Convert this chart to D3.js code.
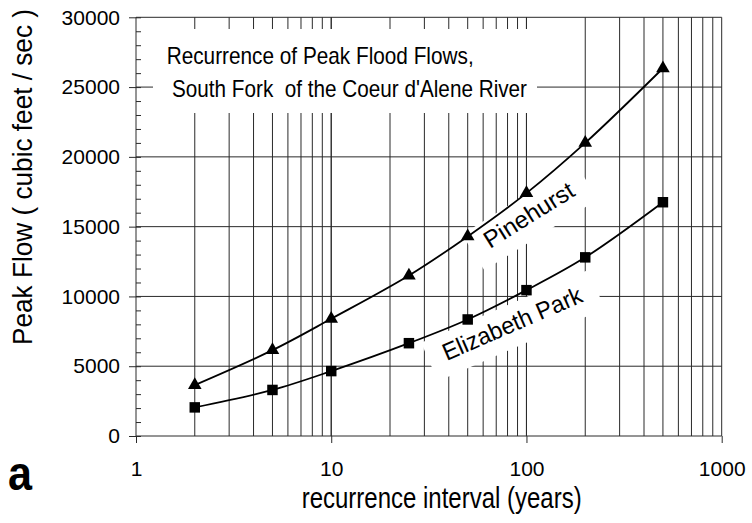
<!DOCTYPE html>
<html>
<head>
<meta charset="utf-8">
<script src="https://cdn.jsdelivr.net/npm/d3@7/dist/d3.min.js"></script>
<style>
  html, body { margin: 0; padding: 0; background: #fff; }
  svg { display: block; font-family: "Liberation Sans", Arial, Helvetica, sans-serif; }
</style>
</head>
<body>
<svg id="chart" width="752" height="523"></svg>
<script>
// Recurrence interval (years) of each estimated peak flow
const interval = [2, 5, 10, 25, 50, 100, 200, 500];
// Peak flow (cubic feet / sec) at each gauge
const pinehurst = [3650, 6150, 8400, 11500, 14300, 17400, 21000, 26350];
const elizabethPark = [2050, 3300, 4650, 6650, 8350, 10450, 12800, 16750];

// Axis ticks
const yTickValues = [0, 5000, 10000, 15000, 20000, 25000, 30000];
const yMinorValues = d3.range(0, 30001, 1000);
const xTickValues = [1, 10, 100, 1000];
const xGridValues = [];
[1, 10, 100].forEach(d => { for (let k = 1; k <= 10; k++) xGridValues.push(d * k); });

const titleLines = ["Recurrence of Peak Flood Flows,", "South Fork  of the Coeur d'Alene River"];
const xTitle = "recurrence interval (years)";
const yTitle = "Peak Flow ( cubic feet / sec )";
const panelLetter = "a";

// Where each series name sits along its curve: [interval, flow]
const labelAnchors = [
  { name: "Pinehurst", at: [65, 13400], angle: -32, length: 102 },
  { name: "Elizabeth Park", at: [39, 5370], angle: -23.5, length: 150 }
];

const svg = d3.select("#chart");
const plot = { left: 136, right: 721.7, top: 17.3, bottom: 436 };
const x = d3.scaleLog().domain([1, 1000]).range([plot.left, plot.right]);
const y = d3.scaleLinear().domain([0, 30000]).range([plot.bottom, plot.top]);
const gridColor = "#2a2a2a";

svg.append("rect").attr("width", 752).attr("height", 523).attr("fill", "#fff");

// Grid
const grid = svg.append("g").attr("stroke", gridColor).attr("stroke-width", 1);
grid.selectAll("line.v").data(xGridValues).join("line")
  .attr("class", "v")
  .attr("x1", d => x(d)).attr("x2", d => x(d))
  .attr("y1", y(30000)).attr("y2", y(0));
grid.selectAll("line.h").data(yTickValues).join("line")
  .attr("class", "h")
  .attr("x1", x(1)).attr("x2", x(1000))
  .attr("y1", d => y(d)).attr("y2", d => y(d));

// Axes
const yAxis = svg.append("g").attr("transform", `translate(${plot.left},0)`)
  .call(d3.axisLeft(y).tickValues(yTickValues).tickSize(7).tickPadding(9).tickFormat(d3.format("d")));
const yMinor = svg.append("g").attr("transform", `translate(${plot.left},0)`)
  .call(d3.axisLeft(y).tickValues(yMinorValues).tickSize(-5).tickFormat(""));
const xAxis = svg.append("g").attr("transform", `translate(0,${plot.bottom})`)
  .call(d3.axisBottom(x).tickValues(xTickValues).tickSize(7).tickPadding(18).tickFormat(d3.format("d")));
[yAxis, yMinor, xAxis].forEach(g => {
  g.select(".domain").remove();
  g.selectAll(".tick line").attr("stroke", gridColor);
  g.selectAll(".tick text").attr("fill", "#000").style("font-size", "21px")
    .style("font-family", "'Liberation Sans', Arial, sans-serif");
});

// Title block on a white panel
svg.append("rect").attr("x", 153).attr("y", 29).attr("width", 384).attr("height", 84).attr("fill", "#fff");
svg.append("text").attr("x", 166.7).attr("y", 64).attr("font-size", 24)
  .attr("textLength", 307).attr("lengthAdjust", "spacingAndGlyphs")
  .text(titleLines[0]);
svg.append("text").attr("x", 172).attr("y", 97).attr("font-size", 24)
  .style("white-space", "pre")
  .attr("textLength", 355).attr("lengthAdjust", "spacingAndGlyphs")
  .text(titleLines[1]);

// Series labels, each on a white rotated panel
labelAnchors.forEach(l => {
  const g = svg.append("g")
    .attr("transform", `translate(${x(l.at[0])},${y(l.at[1])}) rotate(${l.angle})`);
  g.append("rect").attr("x", -16).attr("y", -27).attr("width", l.length + 32).attr("height", 42).attr("fill", "#fff");
  g.append("text").attr("x", 0).attr("y", 0).attr("font-size", 24)
    .attr("textLength", l.length).attr("lengthAdjust", "spacingAndGlyphs")
    .text(l.name);
});

// Curves and markers
const series = [
  { values: pinehurst, symbol: d3.symbolTriangle, size: 80 },
  { values: elizabethPark, symbol: d3.symbolSquare, size: 110 }
];
const line = d3.line().x(d => x(d[0])).y(d => y(d[1])).curve(d3.curveCatmullRom.alpha(0.5));
series.forEach(s => {
  const pts = interval.map((v, i) => [v, s.values[i]]);
  svg.append("path").datum(pts).attr("d", line)
    .attr("fill", "none").attr("stroke", "#000").attr("stroke-width", 1.8);
  svg.append("g").selectAll("path").data(pts).join("path")
    .attr("transform", d => `translate(${x(d[0])},${y(d[1])})`)
    .attr("d", d3.symbol(s.symbol, s.size))
    .attr("fill", "#000");
});

// Axis titles
svg.append("text").attr("x", 441.7).attr("y", 508).attr("font-size", 29)
  .attr("text-anchor", "middle")
  .attr("textLength", 280).attr("lengthAdjust", "spacingAndGlyphs")
  .text(xTitle);
svg.append("text").attr("transform", "translate(32,177) rotate(-90) scale(0.935,1)").attr("font-size", 28)
  .attr("text-anchor", "middle")
  .text(yTitle);

// Panel letter
svg.append("text").attr("x", 8).attr("y", 490).attr("font-size", 48).attr("font-weight", "bold")
  .attr("textLength", 24).attr("lengthAdjust", "spacingAndGlyphs")
  .text(panelLetter);
</script>
</body>
</html>
